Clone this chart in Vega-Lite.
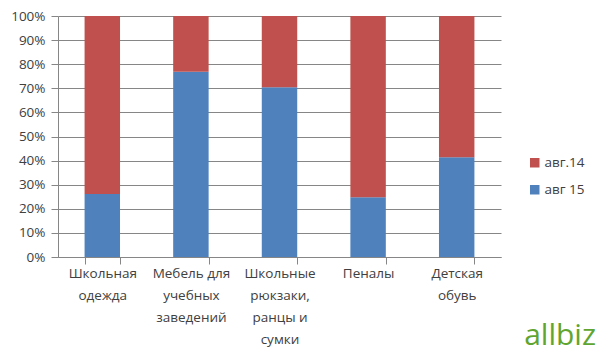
{
  "$schema": "https://vega.github.io/schema/vega-lite/v6.json",
  "autosize": "none",
  "width": 443,
  "height": 241,
  "padding": {"left": 58, "top": 16, "right": 99, "bottom": 103},
  "background": "white",
  "title": {"text": "allbiz", "orient": "bottom", "anchor": "end", "frame": "group", "fontSize": 30, "font": "Open Sans", "fontWeight": "normal", "color": "#5fa52f", "offset": -25, "dx": 95},
  "data": {"values": [
    {"cat": "Школьная одежда", "series": "авг 15", "v": 26.1},
    {"cat": "Школьная одежда", "series": "авг.14", "v": 73.9},
    {"cat": "Мебель для учебных заведений", "series": "авг 15", "v": 76.9},
    {"cat": "Мебель для учебных заведений", "series": "авг.14", "v": 23.1},
    {"cat": "Школьные рюкзаки, ранцы и сумки", "series": "авг 15", "v": 70.4},
    {"cat": "Школьные рюкзаки, ранцы и сумки", "series": "авг.14", "v": 29.6},
    {"cat": "Пеналы", "series": "авг 15", "v": 24.8},
    {"cat": "Пеналы", "series": "авг.14", "v": 75.2},
    {"cat": "Детская обувь", "series": "авг 15", "v": 41.4},
    {"cat": "Детская обувь", "series": "авг.14", "v": 58.6}
  ]},
  "mark": {"type": "bar"},
  "encoding": {
    "x": {
      "field": "cat", "type": "nominal", "sort": null, "title": null,
      "scale": {"paddingInner": 0.6, "paddingOuter": 0.3},
      "axis": {
        "labelAngle": 0,
        "labelExpr": "datum.value == 'Школьная одежда' ? ['Школьная','одежда'] : datum.value == 'Мебель для учебных заведений' ? ['Мебель для','учебных','заведений'] : datum.value == 'Школьные рюкзаки, ранцы и сумки' ? ['Школьные','рюкзаки,','ранцы и','сумки'] : datum.value == 'Детская обувь' ? ['Детская','обувь'] : datum.value",
        "labelFont": "Open Sans", "labelFontSize": 13.5, "labelColor": "#404040",
        "labelLineHeight": 22, "labelPadding": 2, "labelBaseline": "top",
        "tickBand": "extent", "tickSize": 7, "tickColor": "#868686",
        "domainColor": "#868686", "grid": false
      }
    },
    "y": {
      "field": "v", "type": "quantitative", "stack": "normalize", "title": null,
      "axis": {
        "format": ".0%", "values": [0, 0.1, 0.2, 0.3, 0.4, 0.5, 0.6, 0.7, 0.8, 0.9, 1],
        "labelOverlap": false,
        "labelFont": "Open Sans", "labelFontSize": 13.5, "labelColor": "#404040",
        "labelPadding": 6, "tickSize": 7, "tickColor": "#868686",
        "domainColor": "#868686", "gridColor": "#868686", "gridWidth": 1
      }
    },
    "color": {
      "field": "series", "type": "nominal",
      "scale": {"domain": ["авг.14", "авг 15"], "range": ["#C0504D", "#4F81BD"]},
      "legend": {
        "title": null, "orient": "none", "legendX": 470, "legendY": 140,
        "symbolType": "square", "symbolSize": 90, "symbolStrokeWidth": 0,
        "labelFont": "Open Sans", "labelFontSize": 13.5, "labelColor": "#404040",
        "rowPadding": 12, "labelOffset": 3
      }
    },
    "order": {"field": "series", "sort": "ascending"}
  },
  "config": {"view": {"stroke": null}}
}
